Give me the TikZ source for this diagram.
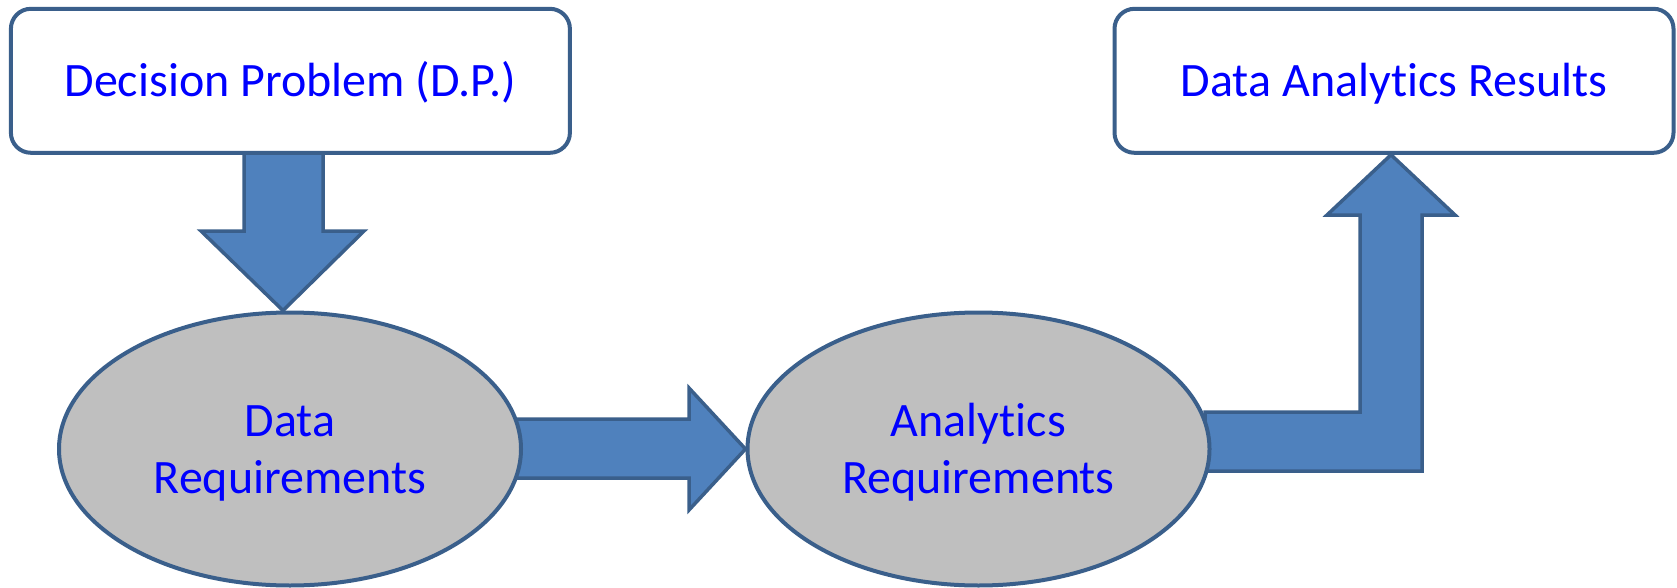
\documentclass[tikz,border=0pt]{standalone}
\usepackage{fontspec}
\setmainfont{Carlito}[RawFeature={-liga;-clig;-calt;-dlig}]
\usetikzlibrary{shapes.geometric,backgrounds}
\definecolor{edgeblue}{HTML}{3A5F8B}
\definecolor{arrowblue}{HTML}{4F81BD}
\definecolor{ovalgray}{HTML}{BFBFBF}
\definecolor{textblue}{HTML}{0000FF}
\newcommand{\twolines}[2]{\begin{tabular}[b]{@{}c@{}}#1\\#2\end{tabular}}
\tikzset{
  labeltext/.style={text=textblue, font=\fontsize{48}{57}\selectfont},
  roundbox/.style={labeltext, draw=edgeblue, line width=4pt, fill=white,
    rounded corners=20pt, minimum width=559pt, minimum height=144pt, inner sep=0pt,
    text height=40pt, text depth=8.2pt},
  oval/.style={labeltext, ellipse, draw=edgeblue, line width=4pt, fill=ovalgray,
    minimum width=462pt, minimum height=273pt, inner sep=0pt,
    text height=97pt, text depth=9pt},
  blockarrow/.style={draw=edgeblue, line width=3.5pt, fill=arrowblue, line join=miter},
}
\begin{document}
\begin{tikzpicture}[x=1pt,y=-1pt]
\useasboundingbox (0,0) rectangle (1677,588);
% boxes and ovals
\node[roundbox] (dp) at (290.4,80.8) {Decision Problem (D.P.)};
\node[roundbox] (dar) at (1394,80.8) {Data Analytics Results};
\node[oval] (dr) at (290,449) {\twolines{Data}{Requirements}};
\node[oval] (ar) at (978.5,449) {\twolines{Analytics}{Requirements}};
% block arrows behind the shapes
\begin{scope}[on background layer]
  % decision problem down to data requirements
  \draw[blockarrow] (244,150) -- (323,150) -- (323,231) -- (364,231)
     -- (dr.north -| 283,0) -- (201,231) -- (244,231) -- cycle;
  % data requirements to analytics requirements
  \draw[blockarrow] (515,419) -- (689,419) -- (689,388)
     -- (ar.west) -- (689,510) -- (689,478) -- (515,478) -- cycle;
  % analytics requirements up to results
  \draw[blockarrow] (1205,412) -- (1360,412) -- (1360,215) -- (1327,215)
     -- (dar.south -| 1391,0) -- (1455,215) -- (1422,215) -- (1422,471)
     -- (1205,471) -- cycle;
\end{scope}
\end{tikzpicture}
\end{document}
